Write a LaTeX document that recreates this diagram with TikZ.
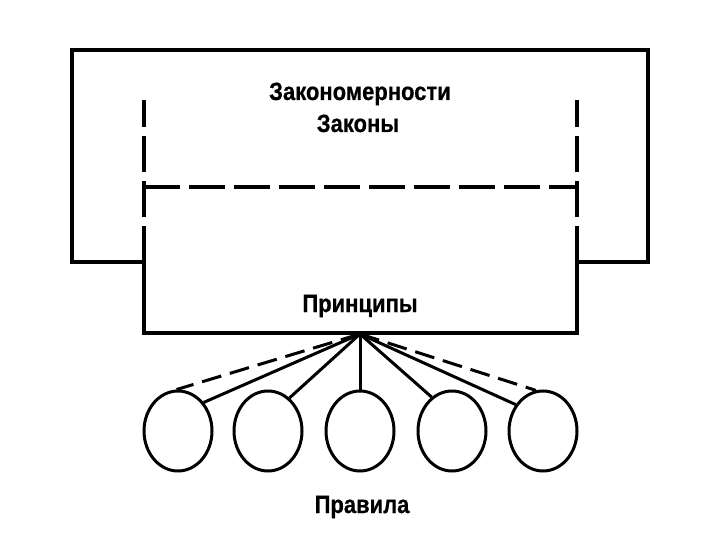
\documentclass[tikz,border=0pt]{standalone}
\usepackage{fontspec}
\setmainfont{Liberation Sans}
\newfontfamily\labfont[FakeStretch=0.88,FakeBold=0.6]{Liberation Sans}
\usetikzlibrary{shapes.geometric}
\begin{document}
\begin{tikzpicture}[x=1pt,y=-1pt,
  frame/.style={line width=4pt, line join=miter},
  dashframe/.style={line width=4pt, dash pattern=on 36pt off 9pt},
  fanline/.style={line width=3pt},
  fandash/.style={line width=3pt, dash pattern=on 20pt off 9pt},
  ball/.style={draw, ellipse, line width=3pt, minimum width=68pt, minimum height=80pt, inner sep=0pt},
  label/.style={font=\labfont\bfseries\fontsize{25}{32}\selectfont, inner sep=0pt, anchor=base}]
\useasboundingbox (0,0) rectangle (720,540);
% outer frame
\coordinate (tl) at (72,50);
\coordinate (tr) at (648,50);
\coordinate (ro) at (648,262);
\coordinate (ri) at (577,262);
\coordinate (rb) at (577,333);
\coordinate (lb) at (144,333);
\coordinate (li) at (144,262);
\coordinate (lo) at (72,262);
\coordinate (ltop) at (144,100);
\coordinate (rtop) at (577,100);
\coordinate (hl) at (144,187);
\coordinate (hr) at (577,187);
\draw[frame] (li) -- (lo) -- (tl) -- (tr) -- (ro) -- (ri) -- (rb) -- (lb) -- cycle;
\draw[dashframe] (li) -- (ltop);
\draw[dashframe] (ri) -- (rtop);
\draw[dashframe] (hl) -- (hr);
% texts
\node[label] (zak1) at (360,100) {Закономерности};
\node[label] (zak2) at (358,132) {Законы};
\node[label] (prin) at (360,312) {Принципы};
\node[label] (prav) at (362,513) {Правила};
% apex and balls
\coordinate (apex) at (360,334);
\node[ball] (e1) at (178,431) {};
\node[ball] (e2) at (268,431) {};
\node[ball] (e3) at (360,431) {};
\node[ball] (e4) at (452,431) {};
\node[ball] (e5) at (543,431) {};
\draw[fanline] (apex) -- (e1.48);
\draw[fanline] (apex) -- (e2.57);
\draw[fanline] (apex) -- (e3.90);
\draw[fanline] (apex) -- (e4.121);
\draw[fanline] (apex) -- (e5.136);
\draw[fandash] (apex) -- (e1.92);
\draw[fandash] (apex) -- (e5.100);
\end{tikzpicture}
\end{document}
